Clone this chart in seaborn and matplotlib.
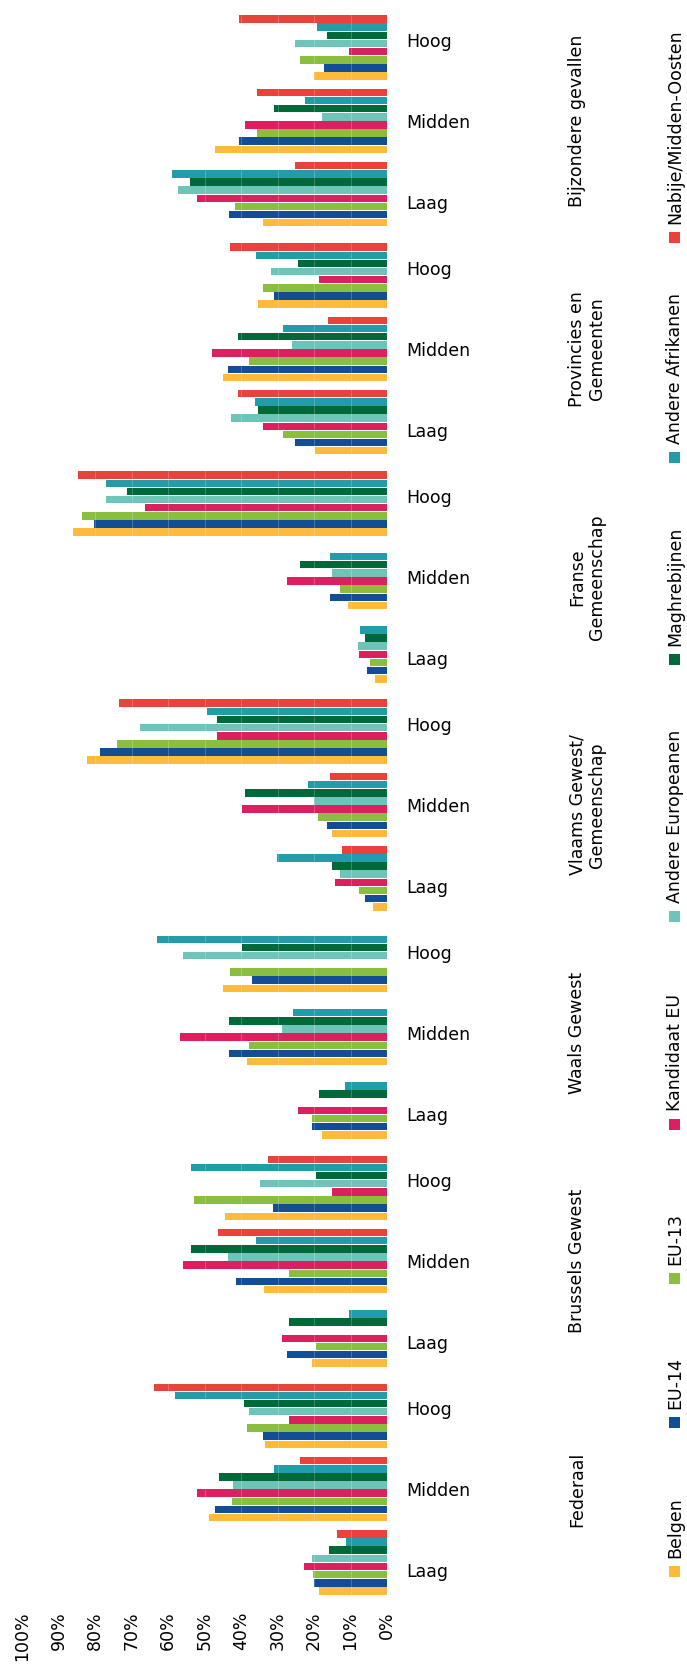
import numpy as np
import pandas as pd
import seaborn as sns
import matplotlib.pyplot as plt
from matplotlib.patches import Rectangle

sns.set_style("white")
plt.rcParams['font.family'] = ['DejaVu Sans']
plt.rcParams['text.color'] = 'black'
plt.rcParams['xtick.color'] = 'black'
plt.rcParams['ytick.color'] = 'black'

# groups from bottom to top, levels from bottom to top inside a group
groups = ["Federaal", "Brussels Gewest", "Waals Gewest", "Vlaams Gewest/\nGemeenschap",
          "Franse\nGemeenschap", "Provincies en\nGemeenten", "Bijzondere gevallen"]
levels = ["Laag", "Midden", "Hoog"]
series = ["Belgen", "EU-14", "EU-13", "Kandidaat EU", "Andere Europeanen",
          "Maghrebijnen", "Andere Afrikanen", "Nabije/Midden-Oosten"]
colors = ["#FDBA3B", "#114E96", "#8BBE3F", "#DC1F5E", "#6FC4BA",
          "#00693A", "#229CA8", "#E8423A"]

nan = np.nan
# percentages, per group: Laag, Midden, Hoog
belgen = [18.6, 48.7, 33.4, 20.6, 33.7, 44.4, 17.9, 38.4, 45.0, 3.9, 15.0, 82.3,
          3.3, 10.6, 85.9, 19.7, 45.0, 35.4, 34.0, 47.0, 20.0]
eu14 = [20.0, 47.1, 34.1, 27.5, 41.4, 31.1, 20.6, 43.3, 36.9, 6.0, 16.5, 78.6,
        5.4, 15.6, 80.2, 25.2, 43.5, 31.0, 43.3, 40.5, 17.3]
eu13 = [20.2, 42.5, 38.3, 19.5, 26.8, 53.0, 20.5, 37.7, 43.0, 7.6, 18.8, 74.0,
        4.7, 12.9, 83.6, 28.4, 37.7, 33.9, 41.6, 35.5, 23.8]
kandidaat = [22.7, 52.0, 26.8, 28.8, 55.8, 15.2, 24.5, 56.7, nan, 14.2, 39.8, 46.5,
             7.6, 27.5, 66.3, 33.9, 47.9, 18.5, 52.0, 39.0, 10.4]
andere_eur = [20.5, 42.3, 37.7, nan, 43.5, 34.8, nan, 28.8, 56.0, 12.9, 20.0, 67.7,
              7.9, 15.0, 77.0, 42.8, 26.0, 31.9, 57.3, 17.9, 25.2]
maghreb = [15.8, 45.9, 39.1, 26.8, 53.7, 19.5, 18.6, 43.3, 39.8, 15.0, 39.0, 46.5,
           6.0, 23.8, 71.1, 35.4, 40.7, 24.5, 54.0, 31.0, 16.5]
andere_afr = [11.3, 30.9, 58.1, 10.4, 35.9, 53.7, 11.5, 25.8, 63.1, 30.2, 21.6, 49.2,
              7.4, 15.6, 77.0, 36.2, 28.6, 36.0, 59.0, 22.5, 19.3]
nabije = [13.6, 23.8, 63.8, nan, 46.2, 32.5, nan, nan, nan, 12.2, 15.6, 73.3,
          nan, nan, 84.7, 40.7, 16.3, 43.0, 25.2, 35.5, 40.5]
values = [belgen, eu14, eu13, kandidaat, andere_eur, maghreb, andere_afr, nabije]

# slot positions: 8 bars per level, 1 slot between levels, 2 between groups
pos = []
p = 4
for g in groups:
    for l in levels:
        pos.append(p)
        p += 9
    p += 1

rows = []
for s, vals in zip(series, values):
    for i, v in enumerate(vals):
        rows.append({"series": s, "pos": pos[i], "value": v})
df = pd.DataFrame(rows)

W, H = 687, 1668
fig = plt.figure(figsize=(W / 100, H / 100), dpi=100)
ax = fig.add_axes([22 / W, 1 - 1595 / H, 365 / W, 1580 / H])

sns.barplot(data=df, x="value", y="pos", hue="series", hue_order=series,
            palette=colors, orient="y", native_scale=True, width=8 / 9, gap=0.08,
            errorbar=None, legend=False, saturation=1, linewidth=0, ax=ax)

ax.set_xlim(100, 0)
ax.set_ylim(0, 194)
sns.despine(ax=ax, left=True, bottom=True)
ax.set_xlabel("")
ax.set_ylabel("")

ax.set_xticks(range(0, 101, 10), [f"{v}%" for v in range(0, 101, 10)],
              rotation=90, fontsize=12.5)
ax.tick_params(axis="x", length=0, pad=12)

# level labels, spread a little around the middle one
label_pos = []
for g in range(len(groups)):
    mid = pos[g * 3 + 1]
    for l in range(3):
        label_pos.append(mid + (pos[g * 3 + l] - mid) * 1.11)
ax.yaxis.tick_right()
ax.set_yticks(label_pos, levels * len(groups), fontsize=12.5)
ax.tick_params(axis="y", length=0, pad=14)
for t in ax.get_yticklabels():
    t.set_horizontalalignment("left")

ax.xaxis.grid(True, color="white", lw=0.6, alpha=0.25)
ax.set_axisbelow(False)

# group names
for g, name in enumerate(groups):
    ax.text(1.496, pos[g * 3 + 1], name, transform=ax.get_yaxis_transform(),
            rotation=90, ha="left", va="center", multialignment="center",
            fontsize=12.5, linespacing=1.15)

# legend
leg_y = [1571, 1422, 1278, 1124, 916, 659, 457, 237]
sq = 11
for s, c, y in zip(series, colors, leg_y):
    fig.add_artist(Rectangle(((674 - sq / 2) / W, 1 - (y + sq / 2) / H), sq / W, sq / H,
                             transform=fig.transFigure, color=c, lw=0))
    fig.text(675 / W, 1 - (y - 13) / H, s, rotation=90, ha="center", va="bottom",
             fontsize=12.5)

fig.savefig("out.png", dpi=100)
